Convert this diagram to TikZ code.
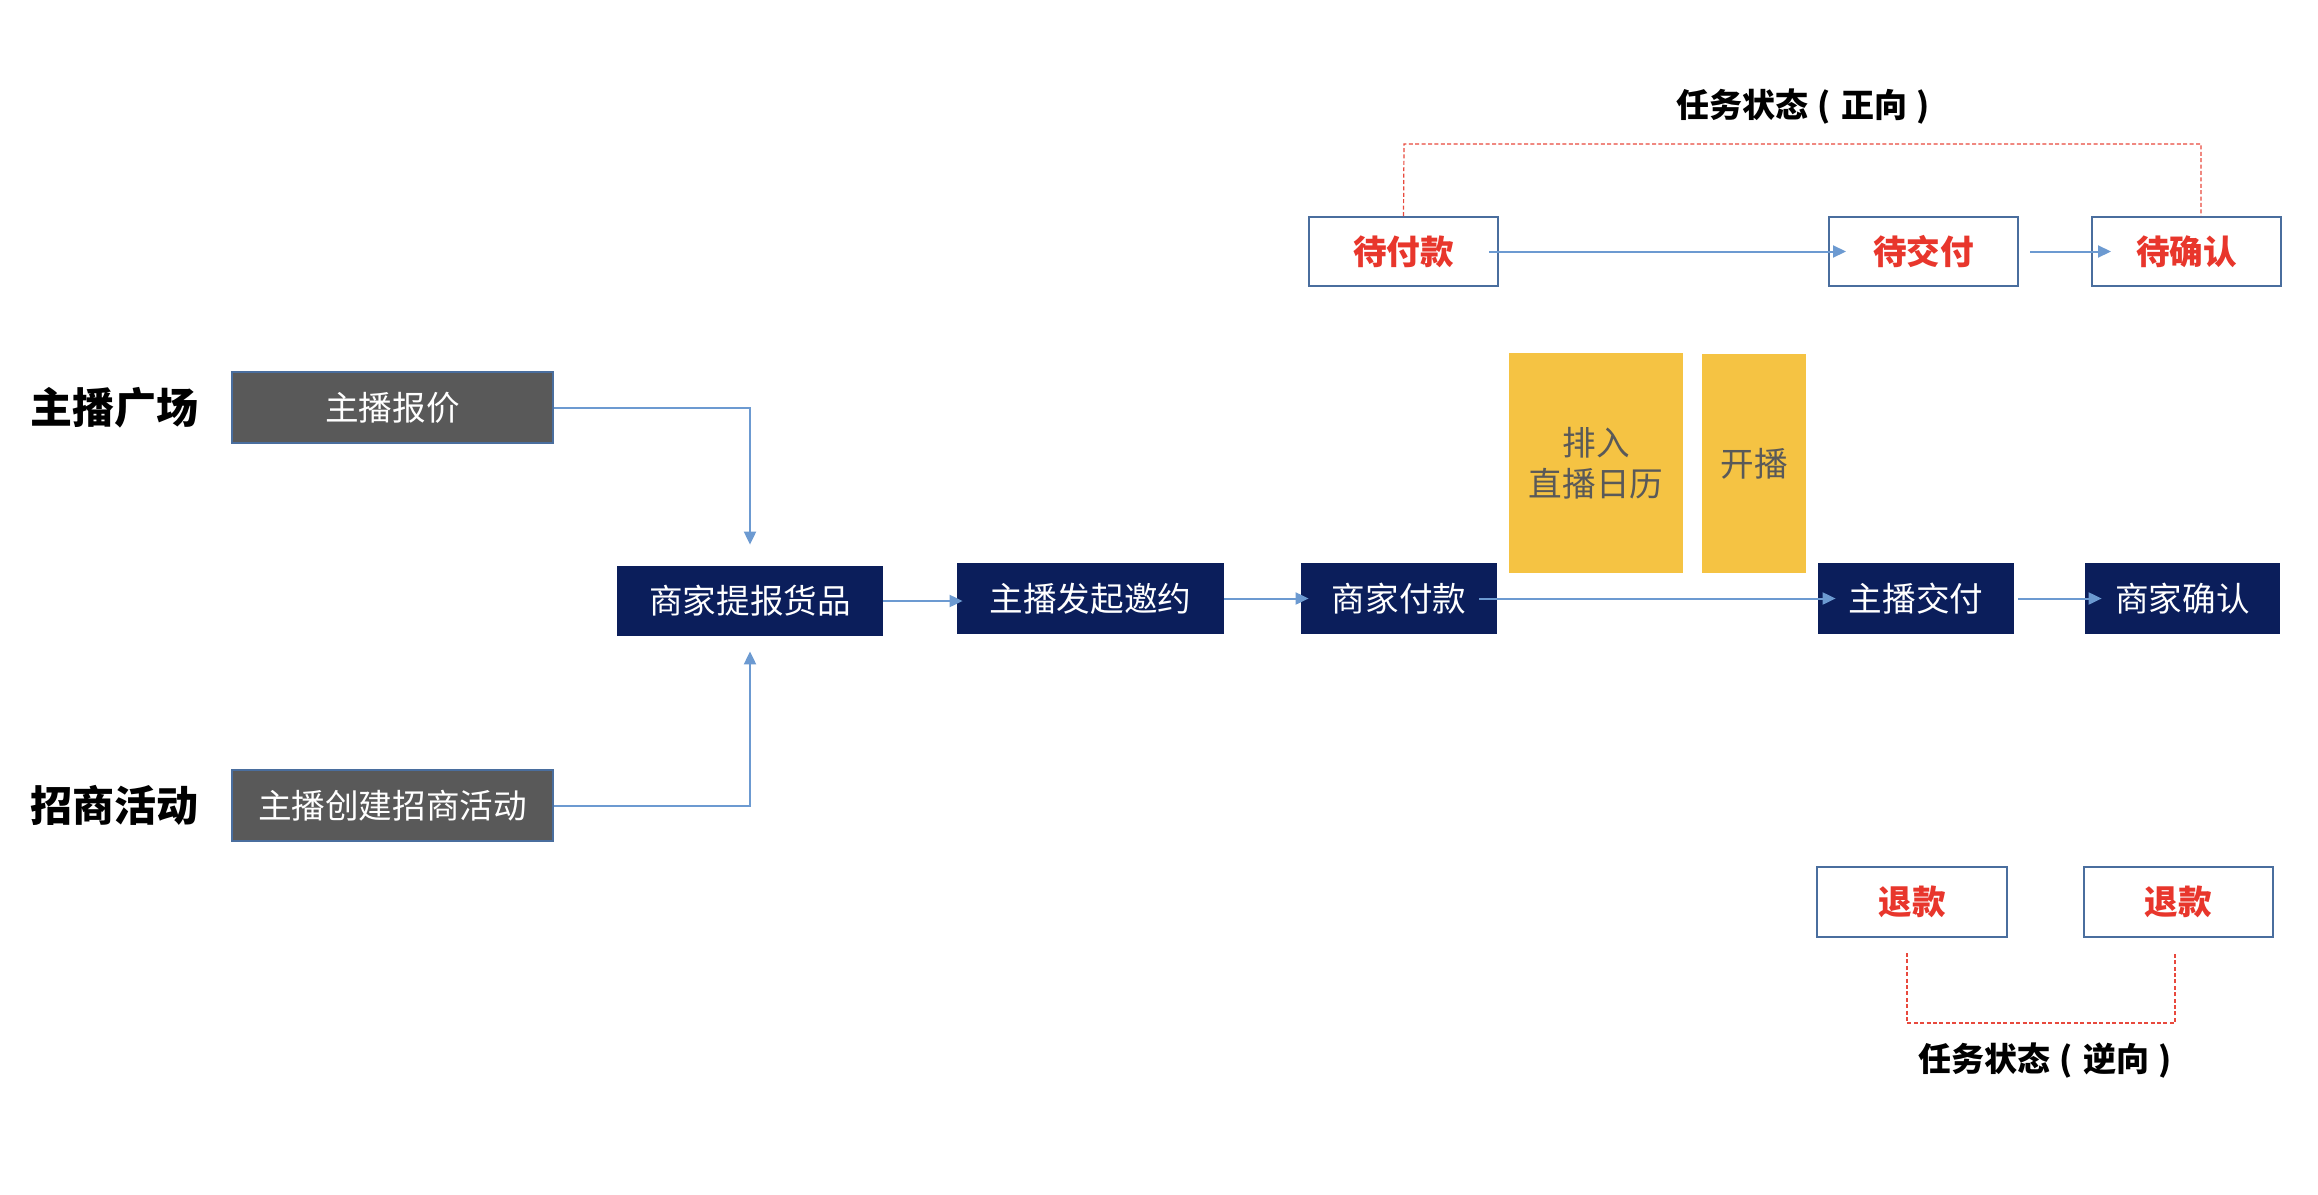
\documentclass[tikz,border=0pt]{standalone}
\usepackage{fontspec}
\setmainfont{Noto Sans CJK SC}
\usetikzlibrary{arrows.meta}
\definecolor{navy}{HTML}{0B1E5B}
\definecolor{graybox}{HTML}{595959}
\definecolor{edgeblue}{HTML}{4A6E9E}
\definecolor{gold}{HTML}{F5C343}
\definecolor{arrowblue}{HTML}{6C9AD1}
\definecolor{stred}{HTML}{E8362C}
\definecolor{dashred}{HTML}{E8493D}
\definecolor{goldtext}{HTML}{595959}
\newcommand{\cparen}[1]{\makebox[1em][c]{#1}}
\tikzset{
  boxtext/.style={font=\fontsize{16.8}{20.5}\selectfont},
  graynode/.style={boxtext, draw=edgeblue, line width=1pt, fill=graybox, text=white, inner sep=0pt},
  navynode/.style={boxtext, fill=navy, text=white, inner sep=0pt},
  goldnode/.style={boxtext, fill=gold, text=goldtext, inner sep=0pt, align=center},
  statenode/.style={font=\fontsize{16.8}{20}\selectfont\bfseries, draw=edgeblue, line width=1pt, fill=white, text=stred, inner sep=0pt},
  sidelabel/.style={font=\fontsize{21}{24}\selectfont\bfseries, text=black, inner sep=0pt},
  titlelabel/.style={font=\fontsize{16.5}{20}\selectfont\bfseries, text=black, inner sep=0pt},
  flow/.style={draw=arrowblue, line width=1pt, -{Triangle[length=6.5pt,width=6pt]}},
  bracket/.style={draw=dashred, line width=0.6pt, dash pattern=on 2pt off 1.2pt},
}
\begin{document}
\begin{tikzpicture}[x=0.5pt,y=-0.5pt]
\fill[white] (0,0) rectangle (2318,1194);
\useasboundingbox (0,0) rectangle (2318,1194);

% side labels
\node[sidelabel] (l1) at (114.5,408) {主播广场};
\node[sidelabel] (l2) at (114.5,805) {招商活动};

% left gray boxes
\node[graynode, minimum width=160.5pt, minimum height=35.5pt] (bj) at (392.5,407.5) {主播报价};
\node[graynode, minimum width=160.5pt, minimum height=35.5pt] (bc) at (392.5,805.5) {主播创建招商活动};

% main flow
\node[navynode, minimum width=133pt, minimum height=35pt] (tb) at (750,601) {商家提报货品};
\node[navynode, minimum width=133.5pt, minimum height=35.5pt] (yy) at (1090.5,598.5) {主播发起邀约};
\node[navynode, minimum width=98pt, minimum height=35.5pt] (fk) at (1399,598.5) {商家付款};
\node[goldnode, minimum width=87pt, minimum height=110pt] (y1) at (1596,463) {排入\\直播日历};
\node[goldnode, minimum width=52pt, minimum height=109.5pt] (y2) at (1754,463.5) {开播};
\node[navynode, minimum width=98pt, minimum height=35.5pt] (jf) at (1916,598.5) {主播交付};
\node[navynode, minimum width=97.5pt, minimum height=35.5pt] (qr) at (2182.5,598.5) {商家确认};

% task states forward
\node[titlelabel] (t1) at (1808,107) {任务状态\cparen{(}正向\cparen{)}};
\node[statenode, minimum width=94.5pt, minimum height=34.5pt] (s1) at (1403.5,251.5) {待付款};
\node[statenode, minimum width=94.5pt, minimum height=34.5pt] (s2) at (1923.5,251.5) {待交付};
\node[statenode, minimum width=94.5pt, minimum height=34.5pt] (s3) at (2186.5,251.5) {待确认};

% task states reverse
\node[statenode, minimum width=95pt, minimum height=35pt] (r1) at (1912,902) {退款};
\node[statenode, minimum width=94.5pt, minimum height=35pt] (r2) at (2178.5,902) {退款};
\node[titlelabel] (t2) at (2050,1061) {任务状态\cparen{(}逆向\cparen{)}};

% brackets
\coordinate (tL) at (1404,144);
\coordinate (tR) at (2201,144);
\coordinate (tRe) at (2201,216);
\draw[bracket] (s1.north) -- (tL) -- (tR) -- (tRe);
\coordinate (bL1) at (1907,953);
\coordinate (bL2) at (1907,1023);
\coordinate (bR2) at (2175,1023);
\coordinate (bR1) at (2175,953);
\draw[bracket] (bL1) -- (bL2) -- (bR2) -- (bR1);

% arrows
\draw[flow, shorten >=10.5pt] (bj.east) -| (tb.north);
\draw[flow, shorten >=7.5pt] (bc.east) -| (tb.south);
\draw[flow, shorten >=-3pt] (tb.east) -- (tb.east -| yy.west);
\draw[flow, shorten >=-4pt] (yy.east) -- (yy.east -| fk.west);
\draw[flow, shorten <=-9pt, shorten >=-9pt] (fk.east) -- (fk.east -| jf.west);
\draw[flow, shorten <=2pt, shorten >=-8.5pt] (jf.east) -- (jf.east -| qr.west);
\draw[flow, shorten <=-5pt, shorten >=-9pt] (s1.east) -- (s1.east -| s2.west);
\draw[flow, shorten <=5.5pt, shorten >=-10pt] (s2.east) -- (s2.east -| s3.west);
\end{tikzpicture}
\end{document}
